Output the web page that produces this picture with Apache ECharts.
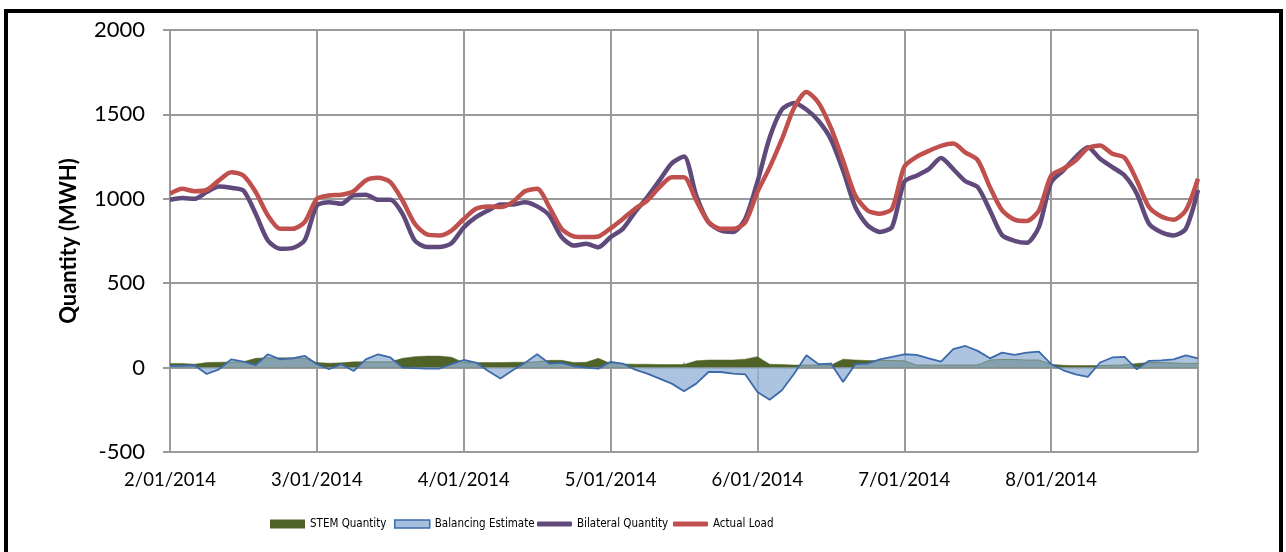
<!DOCTYPE html>
<html>
<head>
<meta charset="utf-8">
<title>Quantity (MWH)</title>
<script src="https://cdn.jsdelivr.net/npm/echarts@6/dist/echarts.min.js"></script>
<style>
    html, body { margin: 0; padding: 0; background: #fff; }
    #chart { width: 1286px; height: 552px; }
</style>
</head>
<body>
<div id="chart"></div>
<script>
// day labels on the x axis (the last one closes the range, not shown)
const dayLabels = ['2/01/2014', '3/01/2014', '4/01/2014', '5/01/2014', '6/01/2014', '7/01/2014', '8/01/2014', '9/01/2014'];
const stepHours = 2;

// values every 2 hours
const stemQuantity = [
    25, 25, 20, 30, 32, 33, 35, 55, 58, 58, 58, 55, 30,
    26, 28, 34, 34, 34, 34, 55, 65, 68, 68, 62, 30,
    30, 30, 30, 32, 32, 34, 43, 43, 30, 32, 55, 24,
    22, 20, 20, 18, 18, 18, 40, 45, 45, 45, 50, 65,
    20, 18, 15, 15, 15, 15, 50, 45, 42, 42, 42, 40,
    15, 15, 15, 15, 15, 15, 45, 48, 48, 45, 45, 20,
    14, 12, 12, 12, 14, 16, 25, 30, 30, 28, 25, 25
];
const balancingEstimate = [
    10, 10, 14, -38, -10, 49, 36, 15, 79, 49, 55, 70, 20,
    -10, 20, -20, 49, 79, 60, 0, -3, -6, -6, 20, 45,
    30, -20, -65, -16, 28, 79, 24, 28, 8, 0, -6, 34,
    24, -12, -36, -65, -95, -140, -95, -26, -26, -36, -40, -144,
    -190, -134, -36, 73, 20, 24, -85, 20, 24, 49, 63, 79,
    75, 55, 36, 109, 128, 99, 55, 89, 75, 89, 95, 20,
    -16, -40, -55, 30, 60, 63, -10, 40, 43, 49, 72, 55
];
const bilateralQuantity = [
    994, 1004, 1000, 1040, 1073, 1065, 1049, 911, 753, 704, 708, 753, 960,
    980, 970, 1020, 1024, 994, 994, 911, 753, 714, 714, 737, 830,
    891, 931, 966, 966, 980, 955, 901, 773, 723, 733, 713, 773,
    822, 921, 1010, 1109, 1210, 1250, 1020, 862, 812, 803, 880, 1100,
    1363, 1529, 1568, 1529, 1461, 1353, 1167, 951, 843, 804, 833, 1100,
    1137, 1176, 1241, 1176, 1104, 1069, 931, 784, 751, 739, 833, 1098,
    1168, 1247, 1306, 1237, 1188, 1138, 1030, 852, 802, 783, 822, 1053
];
const actualLoad = [
    1030, 1059, 1045, 1053, 1109, 1158, 1138, 1040, 901, 822, 822, 862, 1000,
    1020, 1024, 1045, 1109, 1124, 1099, 990, 852, 789, 783, 812, 880,
    941, 955, 951, 980, 1045, 1059, 951, 822, 777, 773, 777, 825,
    881, 941, 990, 1069, 1128, 1128, 990, 862, 822, 822, 860, 1040,
    1186, 1353, 1539, 1633, 1568, 1421, 1225, 1020, 931, 912, 941, 1190,
    1249, 1284, 1314, 1327, 1274, 1229, 1069, 931, 877, 869, 931, 1137,
    1178, 1227, 1300, 1316, 1267, 1243, 1109, 951, 895, 876, 931, 1119
];

const perDay = 24 / stepHours;
const categories = actualLoad.map((v, i) => {
    const h = (i % perDay) * stepHours;
    return dayLabels[Math.floor(i / perDay)] + ' ' + (h < 10 ? '0' : '') + h + ':00';
});

const gridColor = '#9a9a9a';
const legendText = { fontFamily: '"DejaVu Sans Condensed", "DejaVu Sans", sans-serif', fontSize: 11.5, color: '#000' };

// one legend per entry so the swatches sit where the original has them
const legendItem = (left, item, w, h) => ({
    left: left,
    top: 513,
    itemWidth: w,
    itemHeight: h,
    itemGap: 0,
    textStyle: legendText,
    data: [item]
});

const chart = echarts.init(document.getElementById('chart'));

chart.setOption({
    animation: false,
    backgroundColor: '#fff',
    graphic: [{
        type: 'rect',
        shape: { x: 6, y: 11, width: 1275, height: 560 },
        style: { fill: 'none', stroke: '#000', lineWidth: 4 },
        silent: true
    }],
    grid: { left: 170, top: 30, right: 88, bottom: 100 },
    legend: [
        legendItem(265, { name: 'STEM Quantity', icon: 'rect', itemStyle: { color: '#4F6228', borderWidth: 0 } }, 35, 9),
        legendItem(389, { name: 'Balancing Estimate', icon: 'rect', itemStyle: { color: '#A7BFDE', borderColor: '#3D6AAA', borderWidth: 1.5 } }, 35, 8),
        legendItem(532, { name: 'Bilateral Quantity', icon: 'roundRect', itemStyle: { color: '#604A7B', borderWidth: 0 } }, 35, 5),
        legendItem(668, { name: 'Actual Load', icon: 'roundRect', itemStyle: { color: '#C0504D', borderWidth: 0 } }, 35, 5)
    ],
    xAxis: [{
        // labels and day gridlines
        type: 'category',
        data: categories,
        boundaryGap: false,
        axisLine: { show: false, onZero: false },
        axisTick: { show: false },
        axisLabel: {
            interval: (i) => i % perDay === 0 && i < categories.length - 1,
            formatter: (v) => v.split(' ')[0],
            margin: 19,
            fontFamily: 'Lato, sans-serif',
            fontSize: 18.5,
            color: '#000'
        },
        splitLine: { show: true, interval: (i) => i % perDay === 0, lineStyle: { color: gridColor, width: 2 } }
    }, {
        // axis line at zero with half-day ticks
        type: 'category',
        data: categories,
        boundaryGap: false,
        axisLine: { show: true, onZero: true, lineStyle: { color: gridColor, width: 2 } },
        axisTick: { show: true, interval: (i) => i % (perDay / 2) === 0, length: 5, lineStyle: { color: gridColor, width: 1.5 } },
        axisLabel: { show: false },
        splitLine: { show: false }
    }],
    yAxis: {
        type: 'value',
        min: -500,
        max: 2000,
        interval: 500,
        name: 'Quantity (MWH)',
        nameLocation: 'middle',
        nameGap: 90,
        nameTextStyle: { fontFamily: 'Lato, sans-serif', fontSize: 22, fontWeight: 'bold', color: '#000' },
        axisLine: { show: true, lineStyle: { color: gridColor, width: 2 } },
        axisTick: { show: true, length: 7, lineStyle: { color: gridColor, width: 2 } },
        axisLabel: { margin: 25, fontFamily: 'Lato, sans-serif', fontSize: 22, color: '#000', formatter: (v) => String(v) },
        splitLine: { lineStyle: { color: gridColor, width: 2 } }
    },
    series: [{
        name: 'STEM Quantity',
        type: 'line',
        data: stemQuantity,
        symbol: 'none',
        lineStyle: { width: 0.5, color: '#4F6228' },
        itemStyle: { color: '#4F6228' },
        areaStyle: { color: '#4F6228', opacity: 1 }
    }, {
        name: 'Balancing Estimate',
        type: 'line',
        data: balancingEstimate,
        symbol: 'none',
        lineStyle: { width: 1.8, color: '#3D6AAA' },
        itemStyle: { color: '#A7BFDE' },
        areaStyle: { color: '#95B3D7', opacity: 0.78 }
    }, {
        name: 'Bilateral Quantity',
        type: 'line',
        data: bilateralQuantity,
        symbol: 'none',
        smooth: 0.25,
        lineStyle: { width: 4.5, color: '#604A7B' },
        itemStyle: { color: '#604A7B' }
    }, {
        name: 'Actual Load',
        type: 'line',
        data: actualLoad,
        symbol: 'none',
        smooth: 0.25,
        lineStyle: { width: 4.5, color: '#C0504D' },
        itemStyle: { color: '#C0504D' }
    }]
});
</script>
</body>
</html>
